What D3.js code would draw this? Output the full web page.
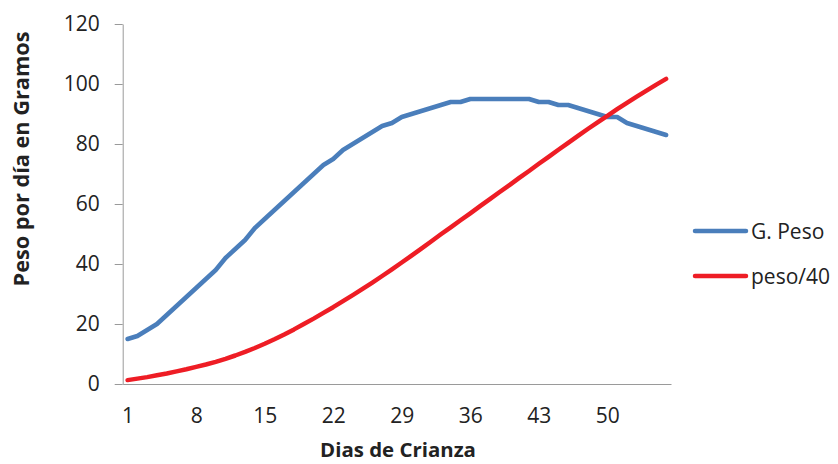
<!DOCTYPE html>
<html>
<head>
<meta charset="utf-8">
<script src="https://cdn.jsdelivr.net/npm/d3@7"></script>
<style>
  html, body { margin: 0; padding: 0; background: #fff; }
  svg { display: block; }
  text { font-family: "Open Sans", "Liberation Sans", sans-serif; fill: #222; }
</style>
</head>
<body>
<svg id="chart" width="838" height="464"></svg>
<script>
// ---- Data ----
const days = d3.range(1, 57); // categories 1..56
const gPeso = [15, 16, 18, 20, 23, 26, 29, 32, 35, 38,
               42, 45, 48, 52, 55, 58, 61, 64, 67, 70,
               73, 75, 78, 80, 82, 84, 86, 87, 89, 90,
               91, 92, 93, 94, 94, 95, 95, 95, 95, 95,
               95, 95, 94, 94, 93, 93, 92, 91, 90, 89,
               89, 87, 86, 85, 84, 83];
const peso40 = [1.3, 1.8, 2.3, 2.9, 3.5, 4.2, 4.9, 5.7, 6.5, 7.4,
                8.4, 9.5, 10.7, 12.0, 13.4, 14.9, 16.5, 18.2, 20.0, 21.8,
                23.7, 25.6, 27.6, 29.6, 31.7, 33.8, 36.0, 38.2, 40.5, 42.8,
                45.1, 47.5, 49.9, 52.2, 54.6, 56.9, 59.3, 61.6, 64.0, 66.3,
                68.7, 71.0, 73.4, 75.7, 78.1, 80.4, 82.7, 85.0, 87.2, 89.4,
                91.6, 93.7, 95.8, 97.8, 99.8, 101.7];
const yTicks = [0, 20, 40, 60, 80, 100, 120];
const xTickLabels = [1, 8, 15, 22, 29, 36, 43, 50];
const seriesNames = ["G. Peso", "peso/40"];
const seriesColors = ["#4a7ebb", "#ee1d25"];

// ---- Layout ----
const svg = d3.select("#chart");
const plotL = 122.7, plotR = 671, plotT = 24, plotB = 384;

const x = d3.scalePoint().domain(days).range([plotL, plotR]).padding(0.5);
const y = d3.scaleLinear().domain([0, 120]).range([plotB, plotT]);

// Y axis
const yAxis = svg.append("g")
  .attr("transform", `translate(${plotL},0)`)
  .call(d3.axisLeft(y).tickValues(yTicks).tickSize(8).tickSizeOuter(0).tickPadding(15));
yAxis.select(".domain").attr("stroke", "#9a9a9a");
yAxis.selectAll(".tick line").attr("stroke", "#9a9a9a");
yAxis.selectAll(".tick text").attr("font-size", 21).attr("font-family", "'Open Sans', sans-serif").attr("fill", "#222");

// X axis
const xAxis = svg.append("g")
  .attr("transform", `translate(0,${plotB})`)
  .call(d3.axisBottom(x).tickValues(xTickLabels).tickSize(0).tickSizeOuter(0).tickPadding(24));
xAxis.select(".domain").attr("stroke", "#9a9a9a");
xAxis.selectAll(".tick text").attr("font-size", 21).attr("font-family", "'Open Sans', sans-serif").attr("fill", "#222");

// Lines
const series = [gPeso, peso40];
const line = d3.line().x((d, i) => x(days[i])).y(d => y(d));
series.forEach((s, k) => {
  svg.append("path")
    .datum(s)
    .attr("d", line)
    .attr("fill", "none")
    .attr("stroke", seriesColors[k])
    .attr("stroke-width", 4.5)
    .attr("stroke-linejoin", "round")
    .attr("stroke-linecap", "round");
});

// Axis titles
function fitText(sel, target) {
  const len = sel.node().getComputedTextLength();
  const fs = parseFloat(sel.attr("font-size"));
  sel.attr("font-size", fs * target / len);
}
const yt = svg.append("text")
  .attr("transform", "translate(20,159) rotate(-90)")
  .attr("text-anchor", "middle")
  .attr("dominant-baseline", "central")
  .attr("font-weight", "bold")
  .attr("font-size", 19)
  .text("Peso por día en Gramos");
fitText(yt, 255);

const xt = svg.append("text")
  .attr("x", 398)
  .attr("y", 457)
  .attr("text-anchor", "middle")
  .attr("font-weight", "bold")
  .attr("font-size", 19)
  .text("Dias de Crianza");
fitText(xt, 156);

// Legend
const legendY = [231, 276];
seriesNames.forEach((name, k) => {
  svg.append("line")
    .attr("x1", 695).attr("x2", 746)
    .attr("y1", legendY[k]).attr("y2", legendY[k])
    .attr("stroke", seriesColors[k])
    .attr("stroke-width", 4.5)
    .attr("stroke-linecap", "round");
  svg.append("text")
    .attr("x", 751)
    .attr("y", legendY[k] + 7.5)
    .attr("font-size", 21)
    .text(name);
});
</script>
</body>
</html>
